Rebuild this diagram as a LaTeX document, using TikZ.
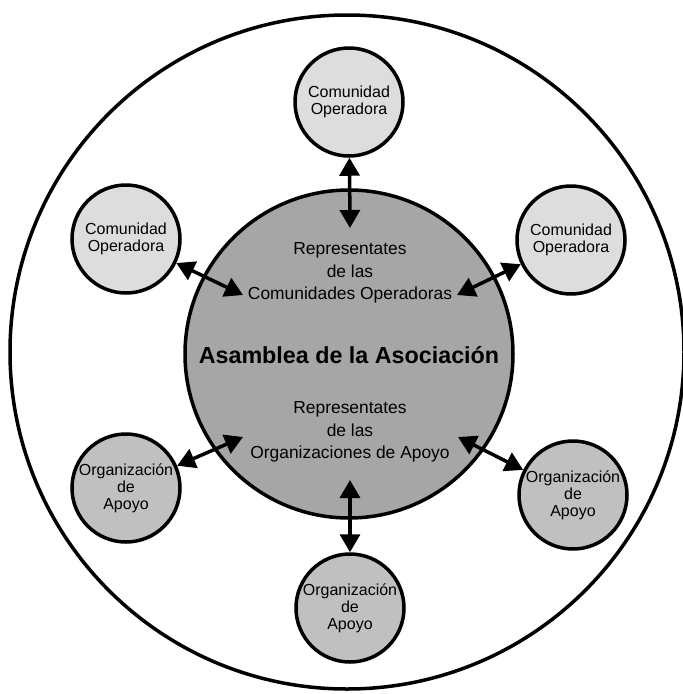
\documentclass[tikz,border=0pt]{standalone}
\usepackage{fontspec}
\setmainfont{Liberation Sans}
\usetikzlibrary{arrows.meta}
\definecolor{opfill}{HTML}{DDDDDD}
\definecolor{apfill}{HTML}{C0C0C0}
\definecolor{asfill}{HTML}{A6A6A6}
\tikzset{
  member/.style={circle,draw,line width=3.5pt,minimum size=108pt,inner sep=0pt,
    align=center,font=\fontsize{16}{17}\selectfont},
  link/.style={{Triangle[width=20pt,length=18pt]}-{Triangle[width=20pt,length=18pt]},
    line width=3.5pt}
}
\begin{document}
\begin{tikzpicture}[x=1pt,y=-1pt]
\useasboundingbox (0,0) rectangle (683,694);
\draw[line width=3.5pt] (347,352) circle (337pt);
\path (349,354) node[circle,draw,line width=3.5pt,fill=asfill,minimum size=328pt](asm){}
      (349,102) node[member,fill=opfill](co1){Comunidad\\Operadora}
      (126,239) node[member,fill=opfill](co2){Comunidad\\Operadora}
      (571,240) node[member,fill=opfill](co3){Comunidad\\Operadora}
      (126,488) node[member,fill=apfill](oa1){Organización\\de\\Apoyo}
      (573,495) node[member,fill=apfill](oa2){Organización\\de\\Apoyo}
      (350,608) node[member,fill=apfill](oa3){Organización\\de\\Apoyo};
\path (350,273) node[align=center,font=\fontsize{17.4}{22.5}\selectfont](rco){Representates\\de las\\Comunidades Operadoras}
      (349,355) node[font=\fontsize{23.3}{28}\selectfont\bfseries](title){Asamblea de la Asociación}
      (350,432) node[align=center,font=\fontsize{17.4}{22.5}\selectfont](roa){Representates\\de las\\Organizaciones de Apoyo};
% inner ends of the links
\coordinate (in1) at (350,228);
\coordinate (in2) at (243,295);
\coordinate (in3) at (457,295);
\coordinate (in4) at (243,437);
\coordinate (in5) at (458,437);
\coordinate (in6) at (350,480);
\draw[link] (co1) -- (in1);
\draw[link] (co2) -- (in2);
\draw[link] (co3) -- (in3);
\draw[link] (oa1) -- (in4);
\draw[link] (oa2) -- (in5);
\draw[link] (oa3) -- (in6);
\end{tikzpicture}
\end{document}
